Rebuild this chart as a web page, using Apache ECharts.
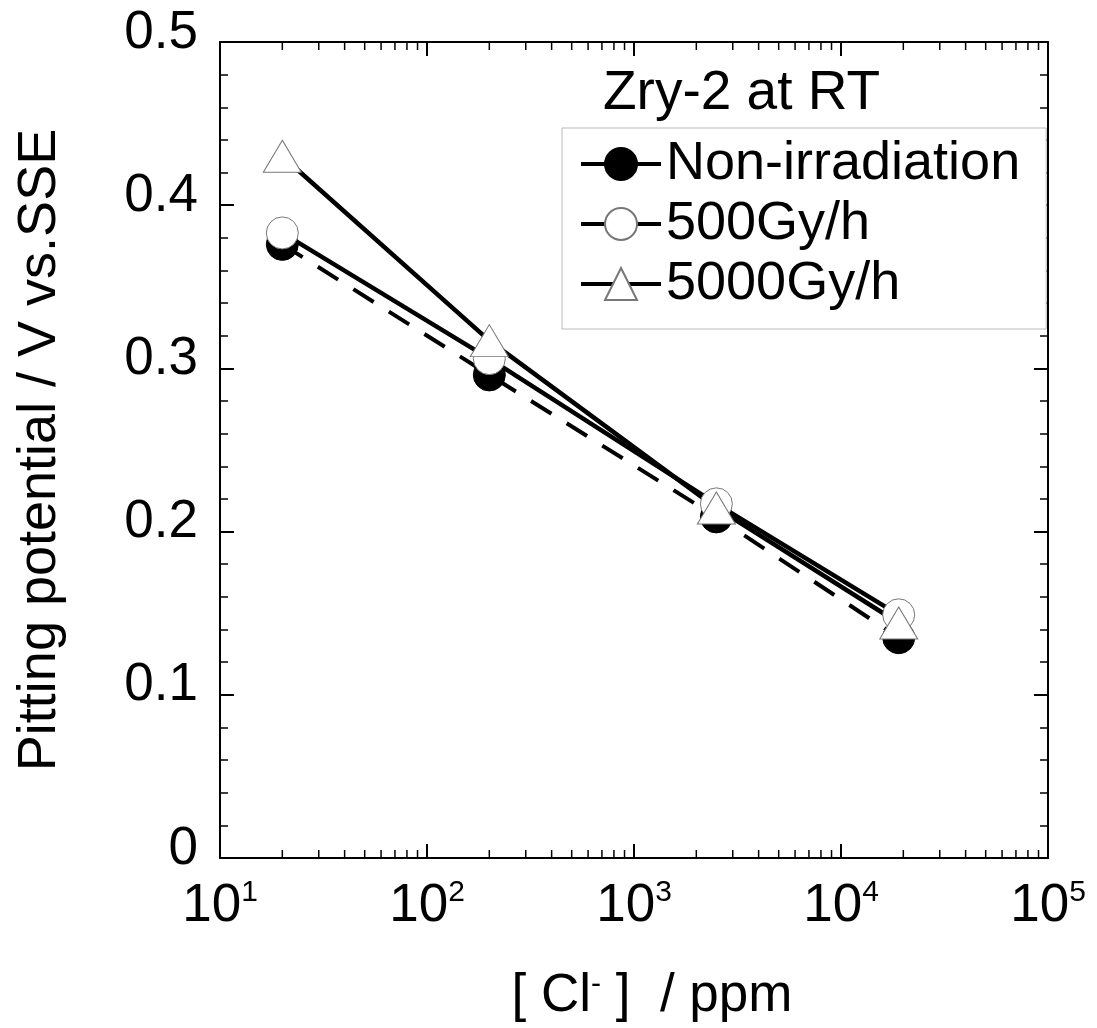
<!DOCTYPE html>
<html><head><meta charset="utf-8">
<script src="https://cdn.jsdelivr.net/npm/echarts@6/dist/echarts.min.js"></script>
<style>html,body{margin:0;padding:0;background:#fff}#c{width:1097px;height:1028px}</style>
</head><body><div id="c"></div>
<script>
const chloridePpm = [20, 200, 2500, 19000];
const nonIrradiation = [0.376, 0.296, 0.209, 0.135];
const gy500 = [0.383, 0.306, 0.217, 0.149];
const gy5000 = [0.430, 0.317, 0.2145, 0.144];
const seriesNames = ['Non-irradiation', '500Gy/h', '5000Gy/h'];
const titleText = 'Zry-2 at RT';
const yName = 'Pitting potential / V vs.SSE';
const xMinorTickValues = [20,30,40,50,60,70,80,90,200,300,400,500,600,700,800,900,2000,3000,4000,5000,6000,7000,8000,9000,20000,30000,40000,50000,60000,70000,80000,90000];

const FONT = 'Liberation Sans';
const pairs = arr => chloridePpm.map((x, i) => [x, arr[i]]);

const chart = echarts.init(document.getElementById('c'), null, {renderer: 'canvas'});
const axisLine = {show: true, onZero: false, lineStyle: {color: '#000', width: 2}};
const xCommon = {
  type: 'log', logBase: 10, min: 10, max: 100000,
  axisLine: axisLine,
  axisTick: {show: true, inside: true, length: 14, lineStyle: {color: '#000', width: 2}},
  minorTick: {show: false},
  splitLine: {show: false}, minorSplitLine: {show: false}
};
const yCommon = {
  type: 'value', min: 0, max: 0.5, interval: 0.1,
  axisLine: axisLine,
  axisTick: {show: true, inside: true, length: 14, lineStyle: {color: '#000', width: 2}},
  minorTick: {show: true, splitNumber: 5, length: 8, lineStyle: {color: '#000', width: 1.5}},
  splitLine: {show: false}, minorSplitLine: {show: false}
};

chart.setOption({
  animation: false,
  backgroundColor: '#fff',
  textStyle: {fontFamily: FONT, color: '#000'},
  title: {
    text: titleText, left: 603, top: 67, padding: 0,
    textStyle: {fontFamily: FONT, fontSize: 55, fontWeight: 'normal', color: '#000', lineHeight: 54}
  },
  grid: {left: 220, right: 49, top: 42, bottom: 169},
  legend: {
    left: 562, top: 128, orient: 'vertical',
    padding: [9, 26, 18, 17], itemGap: 6, itemWidth: 80, itemHeight: 40,
    borderColor: '#bbb', borderWidth: 1, backgroundColor: '#fff',
    textStyle: {fontFamily: FONT, fontSize: 54, color: '#000'},
    data: [
      {name: seriesNames[0], lineStyle: {type: 'solid', width: 4}},
      {name: seriesNames[1], lineStyle: {width: 4}},
      {name: seriesNames[2], lineStyle: {width: 4}}
    ]
  },
  xAxis: [
    Object.assign({}, xCommon, {
      position: 'bottom',
      name: '[ Cl{s|-} ]  / ppm', nameLocation: 'middle', nameGap: 112,
      nameTextStyle: {fontFamily: FONT, fontSize: 53, color: '#000', padding: [0, 0, 0, 36],
        rich: {s: {fontFamily: FONT, fontSize: 30, color: '#000', verticalAlign: 'top', lineHeight: 8}}},
      axisLabel: {
        show: true, margin: 20, color: '#000',
        formatter: v => '{b|10}{s|' + Math.round(Math.log10(v)) + '}',
        rich: {
          b: {fontFamily: FONT, fontSize: 53, color: '#000', lineHeight: 56},
          s: {fontFamily: FONT, fontSize: 30, color: '#000', lineHeight: 7, verticalAlign: 'top'}
        }
      }
    }),
    Object.assign({}, xCommon, {position: 'top', axisLabel: {show: false}})
  ],
  yAxis: [
    Object.assign({}, yCommon, {
      position: 'left',
      name: yName, nameLocation: 'middle', nameGap: 153, nameRotate: 90,
      nameTextStyle: {fontFamily: FONT, fontSize: 54, color: '#000'},
      axisLabel: {show: true, margin: 22, fontFamily: FONT, fontSize: 53, color: '#000',
        verticalAlign: 'bottom', lineHeight: 18}
    }),
    Object.assign({}, yCommon, {position: 'right', axisLabel: {show: false}})
  ],
  series: [
    {
      name: 'xMinorTicks', type: 'custom', silent: true, clip: false, z: 1,
      data: xMinorTickValues.map(v => [v]),
      encode: {x: 0},
      renderItem: function (params, api) {
        const v = api.value(0);
        const b = api.coord([v, 0]);
        const t = api.coord([v, 0.5]);
        const st = {stroke: '#000', lineWidth: 1.5};
        return {type: 'group', children: [
          {type: 'line', shape: {x1: b[0], y1: b[1], x2: b[0], y2: b[1] - 8}, style: st},
          {type: 'line', shape: {x1: t[0], y1: t[1], x2: t[0], y2: t[1] + 8}, style: st}
        ]};
      }
    },
    {
      name: seriesNames[0], type: 'line', data: pairs(nonIrradiation),
      symbol: 'circle', symbolSize: 32,
      itemStyle: {color: '#000', borderColor: '#000', borderWidth: 1},
      lineStyle: {color: '#000', width: 4, type: [24, 18]}
    },
    {
      name: seriesNames[1], type: 'line', data: pairs(gy500),
      symbol: 'circle', symbolSize: 32,
      itemStyle: {color: '#fff', borderColor: '#777', borderWidth: 1},
      lineStyle: {color: '#000', width: 4.5}
    },
    {
      name: seriesNames[2], type: 'line', data: pairs(gy5000),
      symbol: 'triangle', symbolSize: [38, 32],
      itemStyle: {color: '#fff', borderColor: '#777', borderWidth: 1},
      lineStyle: {color: '#000', width: 4.5}
    }
  ]
});
</script></body></html>
